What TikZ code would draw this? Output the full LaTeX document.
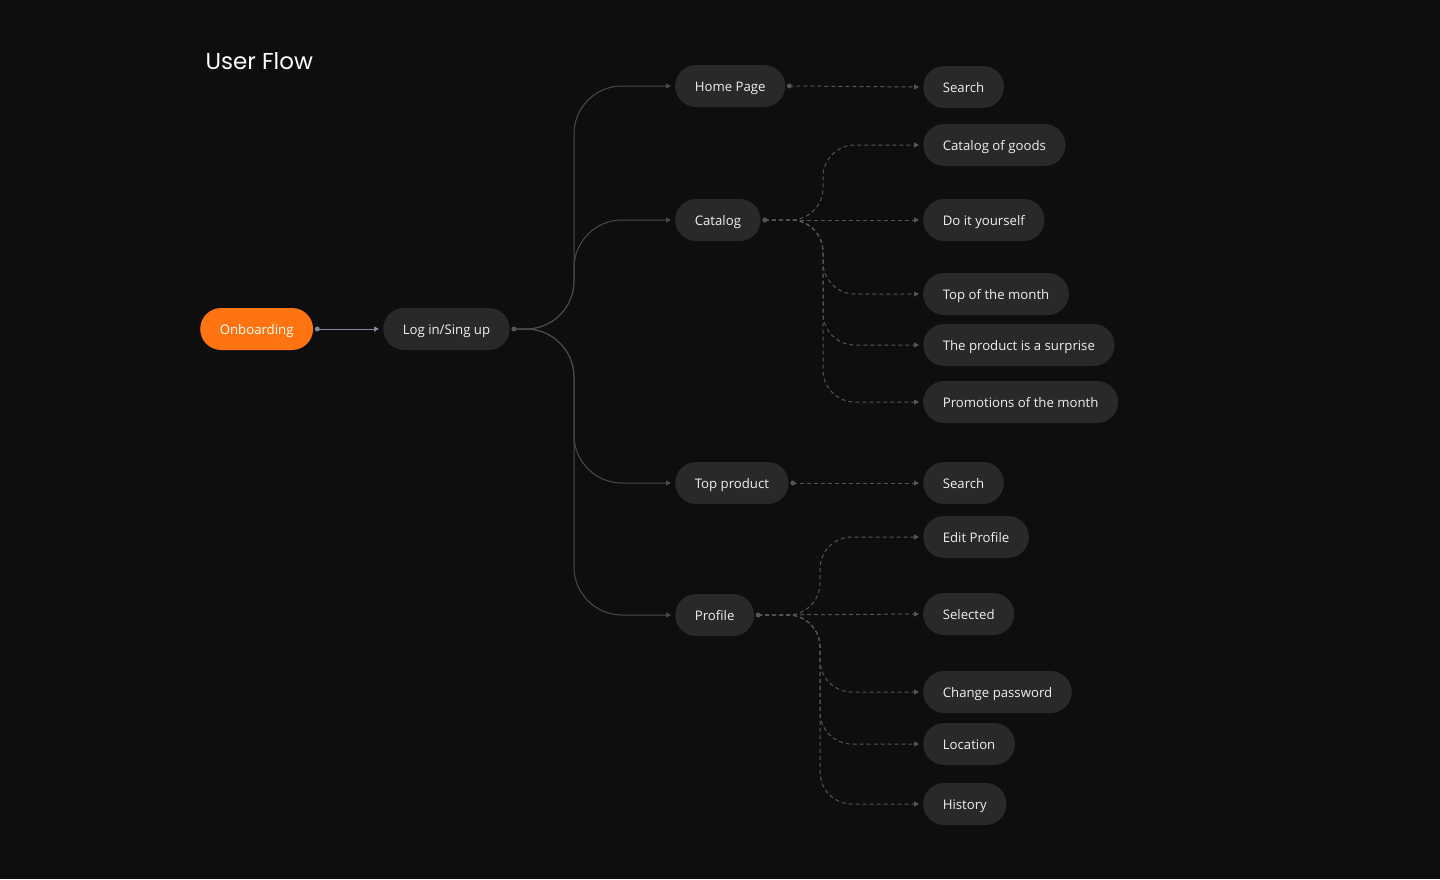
\documentclass[tikz,border=0pt]{standalone}
\usepackage{fontspec}
\setmainfont{Open Sans}
\newfontfamily\titlefont{Poppins}
\usetikzlibrary{arrows.meta,shapes.misc}
\definecolor{bg}{HTML}{0E0E0E}
\definecolor{boxgray}{HTML}{292929}
\definecolor{txt}{HTML}{F0F0F0}
\definecolor{brand}{HTML}{FF7410}
\definecolor{linegray}{HTML}{4A4A4A}
\definecolor{dashgray}{HTML}{555555}
\definecolor{steel}{HTML}{7F8B9C}

\begin{document}
\begin{tikzpicture}[x=1pt,y=-1pt,
  box/.style={rounded rectangle, fill=boxgray, text=txt, minimum height=42pt,
    inner xsep=19pt, text height=10pt, text depth=0pt, anchor=west,
    font=\fontsize{13.2}{15}\selectfont},
  trunk/.style={draw=linegray, line width=1pt, rounded corners=48pt,
    -{Triangle[length=5pt,width=5pt]}, shorten >=4pt},
  sub/.style={draw=dashgray, line width=1pt, dash pattern=on 4pt off 3pt,
    rounded corners=32pt, -{Triangle[length=5pt,width=5pt]}, shorten >=4pt}]
\fill[bg] (0,0) rectangle (1440,879);
\useasboundingbox (0,0) rectangle (1440,879);

\node[anchor=west, text=white, font=\titlefont\fontsize{23}{27}\selectfont] (title) at (202,61) {User Flow};

% first level
\node[box, fill=brand, text=white] (onboard) at (200,329) {Onboarding};
\node[box] (login) at (383,329) {Log in/Sing up};

% second level
\node[box] (home) at (675,86) {Home Page};
\node[box] (catalog) at (675,220) {Catalog};
\node[box] (top) at (675,483) {Top product};
\node[box] (profile) at (675,615) {Profile};

% third level
\node[box] (search1) at (923,87) {Search};
\node[box] (goods) at (923,145) {Catalog of goods};
\node[box] (diy) at (923,220) {Do it yourself};
\node[box] (month) at (923,294) {Top of the month};
\node[box] (surprise) at (923,345) {The product is a surprise};
\node[box] (promo) at (923,402) {Promotions of the month};
\node[box] (search2) at (923,483) {Search};
\node[box] (edit) at (923,537) {Edit Profile};
\node[box] (selected) at (923,614) {Selected};
\node[box] (password) at (923,692) {Change password};
\node[box] (location) at (923,744) {Location};
\node[box] (history) at (923,804) {History};

% start dots
\coordinate (onboardDot) at ([xshift=4pt]onboard.east);
\coordinate (loginDot) at ([xshift=4pt]login.east);
\coordinate (homeDot) at ([xshift=4pt]home.east);
\coordinate (catalogDot) at ([xshift=4pt]catalog.east);
\coordinate (topDot) at ([xshift=4pt]top.east);
\coordinate (profileDot) at ([xshift=4pt]profile.east);
\coordinate (loginFork) at (574,329);
\coordinate (catalogFork) at (823,220);
\coordinate (profileFork) at (820,615);

\path[draw=steel, line width=1pt, -{Triangle[length=5pt,width=5pt]}, shorten >=4pt] (onboardDot) -- (login.west);
\path[trunk] (loginDot) -- (loginFork) |- (home.west);
\path[trunk] (loginDot) -- (loginFork) |- (catalog.west);
\path[trunk] (loginDot) -- (loginFork) |- (top.west);
\path[trunk] (loginDot) -- (loginFork) |- (profile.west);

\path[sub] (homeDot) -- (search1.west);
\path[sub] (catalogDot) -- (catalogFork) |- (goods.west);
\path[sub] (catalogDot) -- (diy.west);
\path[sub] (catalogDot) -- (catalogFork) |- (month.west);
\path[sub] (catalogDot) -- (catalogFork) |- (surprise.west);
\path[sub] (catalogDot) -- (catalogFork) |- (promo.west);
\path[sub] (topDot) -- (search2.west);
\path[sub] (profileDot) -- (profileFork) |- (edit.west);
\path[sub] (profileDot) -- (selected.west);
\path[sub] (profileDot) -- (profileFork) |- (password.west);
\path[sub] (profileDot) -- (profileFork) |- (location.west);
\path[sub] (profileDot) -- (profileFork) |- (history.west);

\fill[steel] (onboardDot) circle (2.5pt);
\fill[dashgray] (loginDot) circle (2.5pt);
\fill[dashgray] (homeDot) circle (2.5pt);
\fill[dashgray] (catalogDot) circle (2.5pt);
\fill[dashgray] (topDot) circle (2.5pt);
\fill[dashgray] (profileDot) circle (2.5pt);
\end{tikzpicture}
\end{document}
